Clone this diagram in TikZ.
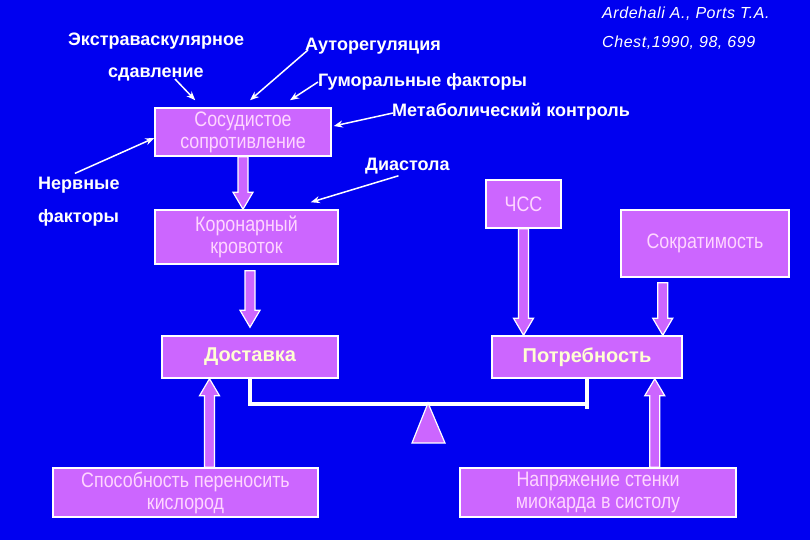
\documentclass[tikz,border=0pt]{standalone}
\usepackage{fontspec}
\setmainfont{Liberation Sans}
\newfontfamily\narrowfont{Liberation Sans}[FakeStretch=0.85]
\newfontfamily\citefont{Liberation Sans}[LetterSpace=3.5]
\usetikzlibrary{calc,arrows.meta}

\definecolor{slideblue}{RGB}{0,0,240}
\definecolor{boxviolet}{RGB}{204,102,255}
\definecolor{boxtext}{RGB}{255,214,255}
\definecolor{boldtext}{RGB}{255,255,210}

% thick violet arrow with white outline, from #1 to #2
\newcommand{\fatarrow}[2]{%
  \path[fat] let \p1=(#1), \p2=(#2),
    \n1={atan2(\y2-\y1,\x2-\x1)}, \n2={veclen(\x2-\x1,\y2-\y1)} in
    [shift={(\p1)}, rotate=\n1]
    (0pt,5pt) -- ({\n2*1pt-17pt},5pt) -- ({\n2*1pt-17pt},10pt) -- ({\n2*1pt},0pt)
    -- ({\n2*1pt-17pt},-10pt) -- ({\n2*1pt-17pt},-5pt) -- (0pt,-5pt) -- cycle;}

\begin{document}
\begin{tikzpicture}[
    x=1pt, y=-1pt,
    box/.style={draw=white, line width=1.5pt, fill=boxviolet, inner sep=0pt, align=center,
      text=boxtext, font=\narrowfont\fontsize{21}{22}\selectfont},
    keybox/.style={box, text=boldtext, font=\bfseries\fontsize{20}{22}\selectfont},
    lbl/.style={anchor=base west, inner sep=0pt, text=white, font=\bfseries\fontsize{18}{20}\selectfont},
    citetext/.style={anchor=base west, inner sep=0pt, text=white, font=\citefont\itshape\fontsize{16}{19}\selectfont},
    arr/.style={draw=white, line width=1.5pt, -{Stealth[length=9pt, width=7pt]}},
    fat/.style={draw=white, line width=1.2pt, fill=boxviolet},
    beam/.style={draw=white, line width=4pt}
]

\fill[slideblue] (0,0) rectangle (810,540);

% boxes
\node[box, minimum width=176pt, minimum height=48pt] (sosud) at (243,132) {Сосудистое\\сопротивление};
\node[box, minimum width=183pt, minimum height=54pt] (koron) at (246.5,237) {Коронарный\\кровоток};
\node[keybox, minimum width=176pt, minimum height=42pt] (dost) at (250,357) {Доставка};
\node[box, minimum width=75pt, minimum height=48pt] (chss) at (523.5,204) {ЧСС};
\node[box, minimum width=168pt, minimum height=67pt] (sokr) at (705,243.5) {Сократимость};
\node[keybox, minimum width=190pt, minimum height=42pt] (potr) at (587,357) {Потребность};
\node[box, minimum width=265pt, minimum height=49pt] (sposob) at (185.5,492.5) {Способность переносить\\кислород};
\node[box, minimum width=276pt, minimum height=49pt] (napr) at (598,492.5) {Напряжение стенки\\миокарда в систолу};

% labels
\node[lbl] (extra) at (68,46) {Экстраваскулярное};
\node[lbl] (sdav) at (108,78) {сдавление};
\node[lbl] (auto) at (305,51) {Ауторегуляция};
\node[lbl] (humor) at (318,87) {Гуморальные факторы};
\node[lbl] (metab) at (392,117) {Метаболический контроль};
\node[lbl] (nerv) at (38,189) {Нервные};
\node[lbl] (fakt) at (38,222) {факторы};
\node[lbl] (diast) at (365,171) {Диастола};
\node[citetext] (authors) at (602,19) {Ardehali A., Ports T.A.};
\node[citetext] (journal) at (602,48) {Chest,1990, 98, 699};

% thin arrows
\draw[arr] ($(sdav.base west)+(67,1)$) -- ($(sosud.north west)+(41,-7)$);
\draw[arr] ($(auto.base west)+(3,-1)$) -- ($(sosud.north)+(7,-7)$);
\draw[arr] ($(humor.base west)+(0,-5)$) -- ($(sosud.north)+(47,-7)$);
\draw[arr] ($(metab.base west)+(1,-4)$) -- ($(sosud.east)+(2,-6)$);
\draw[arr] ($(nerv.north)+(-4,-3)$) -- ($(sosud.west)+(0,6)$);
\draw[arr] ($(diast.south)+(-9,1)$) -- ($(koron.north east)+(-28,-7)$);

% thick arrows
\fatarrow{sosud.south}{sosud.south |- koron.north}
\fatarrow{$(dost.north |- koron.south)+(0,6)$}{$(dost.north)+(0,-8)$}
\fatarrow{chss.south}{chss.south |- potr.north}
\fatarrow{$(potr.north east |- sokr.south)+(-20,5)$}{$(potr.north east)+(-20,0)$}
\fatarrow{$(sposob.north)+(24,0)$}{$(sposob.north |- dost.south)+(24,0)$}
\fatarrow{$(potr.south east |- napr.north)+(-28,0)$}{$(potr.south east)+(-28,0)$}

% balance
\draw[beam] (dost.south) |- ($(potr.south)+(0,25)$);
\draw[beam] (potr.south) -- ++(0,30);
\draw[fat] (428,403) -- (445,443) -- (412,443) -- cycle;

\end{tikzpicture}
\end{document}
